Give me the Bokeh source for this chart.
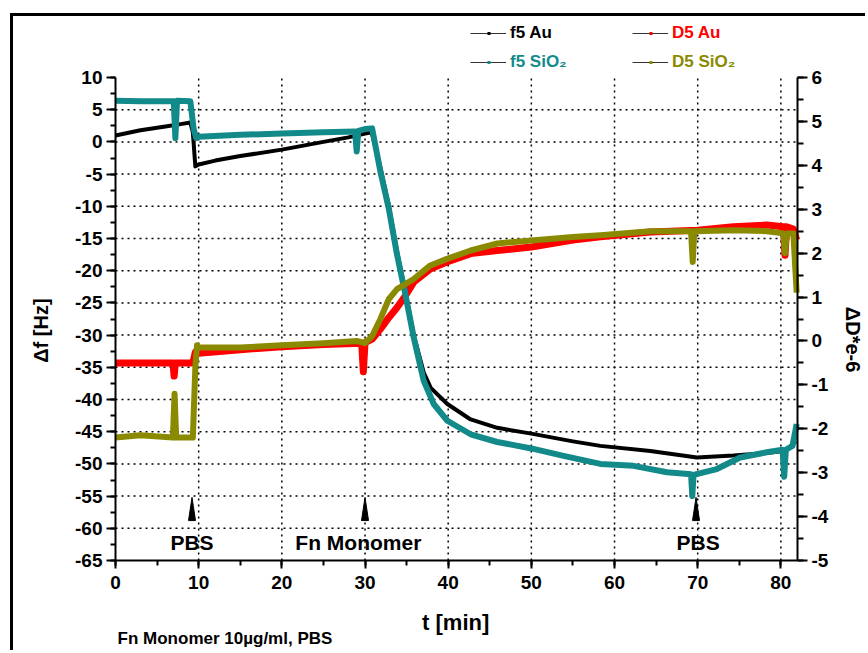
from bokeh.plotting import figure
from bokeh.models import (Range1d, LinearAxis, Label, Legend, LegendItem,
                          ColumnDataSource, SingleIntervalTicker, PrintfTickFormatter)
from bokeh.embed import file_html
from bokeh.resources import INLINE

FONT = "Liberation Sans"

# ---------------- data ----------------
# f5 Au  (left axis, Hz)
t_f5au = [0, 3, 6, 8, 9, 9.3, 9.6, 10, 12, 15, 20, 25, 28, 30, 30.8, 31.85, 32.85, 33.85,
          34.86, 35.86, 37.06, 37.9, 39.9, 42.7, 45.9, 50, 55, 58.3, 64.3, 69.9, 74.3, 78.3,
          80.3, 81, 81.8]
f5au = [1.0, 1.8, 2.4, 2.8, 3.0, 1.5, -3.8, -3.5, -2.9, -2.2, -1.2, 0.0, 0.7, 1.3, 1.5, -4.0,
        -9.8, -17.0, -23.3, -30.0, -35.8, -38.2, -40.7, -43.1, -44.4, -45.3, -46.5, -47.2,
        -48.0, -49.0, -48.7, -48.3, -48.0, -47.5, -46.5]

# f5 SiO2 (left axis, Hz)
t_f5si = [0, 3, 7.0, 7.2, 7.4, 9.0, 9.4, 9.7, 10, 15, 20, 25, 28.8, 29.0, 29.2, 30, 30.85,
          31.85, 32.85, 33.85, 34.86, 35.86, 37.06, 38.26, 39.9, 42.7, 45.9, 50, 54, 58.3,
          62.3, 66.3, 69.2, 69.35, 69.5, 72.3, 75.1, 78.3, 80.2, 80.4, 80.6, 81.4, 81.9]
f5si = [6.4, 6.3, 6.3, 0.6, 6.4, 6.3, 2.0, 0.6, 0.8, 1.1, 1.3, 1.5, 1.6, -1.5, 1.7, 2.0, 2.1,
        -4.6, -10.3, -17.5, -23.7, -30.4, -37.1, -40.7, -43.3, -45.4, -46.6, -47.6, -48.8,
        -50.0, -50.3, -51.3, -51.6, -55.0, -51.7, -50.8, -49.0, -48.2, -47.8, -52.0, -47.8,
        -47.2, -43.8]

# D5 Au (right axis, 1e-6)
t_d5au = [0, 3, 6.9, 7.05, 7.2, 9.3, 9.6, 10, 15, 20, 25, 29.6, 29.8, 30.0, 30.85, 31.85,
          32.85, 33.85, 34.86, 35.86, 37.85, 39.85, 42.7, 45.9, 50, 55, 58.3, 64.3, 70, 74.3,
          78.3, 80.3, 80.5, 80.7, 81.5, 81.9]
d5au = [-0.5, -0.5, -0.5, -0.8, -0.5, -0.5, -0.25, -0.28, -0.2, -0.13, -0.08, -0.05, -0.7,
        -0.04, 0.04, 0.27, 0.53, 0.76, 1.03, 1.34, 1.64, 1.8, 1.99, 2.06, 2.14, 2.3, 2.37,
        2.48, 2.52, 2.6, 2.64, 2.6, 1.95, 2.6, 2.55, 2.3]

# D5 SiO2 (right axis, 1e-6)
t_d5si = [0, 3, 6.9, 7.1, 7.3, 9.3, 9.6, 9.8, 10, 15, 20, 25, 29, 30, 30.85, 31.85, 32.85,
          33.85, 35.85, 37.85, 39.85, 42.7, 45.9, 50, 55, 58.3, 64.3, 69.2, 69.4, 69.6, 74.3,
          78.3, 80.3, 80.5, 80.7, 81.5, 81.9]
d5si = [-2.2, -2.15, -2.2, -1.2, -2.2, -2.2, -0.6, -0.1, -0.15, -0.15, -0.1, -0.05, 0.0,
        -0.05, 0.11, 0.5, 0.95, 1.18, 1.41, 1.72, 1.87, 2.06, 2.22, 2.29, 2.37, 2.41, 2.5,
        2.5, 1.8, 2.5, 2.52, 2.5, 2.45, 2.0, 2.45, 2.45, 1.1]

series_names = ["f5 Au", "f5 SiO₂", "D5 Au", "D5 SiO₂"]
series_colors = ["#000000", "#138a8a", "#ff0000", "#8a8a00"]

# axis extents
t_min, t_max = 0, 82
f_min, f_max = -65, 10
d_min, d_max = -5, 6
x_ticks_grid = [10, 20, 30, 40, 50, 60, 70, 80]
y_ticks_grid = [-60, -55, -50, -45, -40, -35, -30, -25, -20, -15, -10, -5, 0, 5]

event_t = [9.2, 30.0, 69.8]
event_text_t = [9.2, 29.2, 70.05]
event_labels = ["PBS", "Fn Monomer", "PBS"]
arrow_tip = -55.2
arrow_base = -58.8
arrow_half = 0.42
event_text_y = -62.2

# ---------------- layout geometry (pixels) ----------------
W, H = 855, 637                 # canvas
fl, fr, ft, fb = 102, 784, 61, 544   # plotting box inside the canvas
xs_px = (fr - fl) / (t_max - t_min)
ys_px = (fb - ft) / (f_max - f_min)
ds_px = (fb - ft) / (d_max - d_min)
x_lo, x_hi = t_min - fl / xs_px, t_max + (W - fr) / xs_px
y_lo, y_hi = f_min - (H - fb) / ys_px, f_max + ft / ys_px
r_lo, r_hi = d_min - (H - fb) / ds_px, d_max + ft / ds_px

p = figure(width=W, height=H, output_backend="svg", toolbar_location=None,
           x_range=Range1d(x_lo, x_hi), y_range=Range1d(y_lo, y_hi), min_border=0,
           margin=(13, 0, 0, 10),
           styles={"border-left": "3px solid #000", "border-top": "3px solid #000"})
p.extra_y_ranges = {"d": Range1d(r_lo, r_hi)}
p.outline_line_color = None
p.background_fill_color = "white"
p.border_fill_color = "white"
p.xgrid.visible = False
p.ygrid.visible = False

def style_axis(ax, major_out, minor_out):
    ax.axis_line_width = 2
    ax.axis_line_color = "black"
    ax.major_tick_line_width = 2
    ax.minor_tick_line_width = 2
    ax.major_tick_out = major_out
    ax.major_tick_in = 0
    ax.minor_tick_out = minor_out
    ax.minor_tick_in = 0
    ax.major_label_text_font = FONT
    ax.major_label_text_font_style = "bold"
    ax.major_label_text_font_size = "19px"
    ax.major_label_text_color = "black"
    ax.formatter = PrintfTickFormatter(format="%d")

xa = p.xaxis[0]
xa.ticker = SingleIntervalTicker(interval=10, num_minor_ticks=2)
xa.fixed_location = f_min
xa.bounds = (t_min, t_max)
style_axis(xa, 8, 5)
xa.major_label_standoff = 7

ya = p.yaxis[0]
ya.ticker = SingleIntervalTicker(interval=5, num_minor_ticks=2)
ya.fixed_location = t_min
ya.bounds = (f_min, f_max)
style_axis(ya, 9, 5)
ya.major_label_standoff = 4

ra = LinearAxis(y_range_name="d", ticker=SingleIntervalTicker(interval=1, num_minor_ticks=2),
                fixed_location=t_max, bounds=(d_min, d_max))
style_axis(ra, 10, 6)
ra.major_label_standoff = 4
p.add_layout(ra, "right")

# dotted grid
p.segment(x0=x_ticks_grid, y0=[f_min] * len(x_ticks_grid), x1=x_ticks_grid,
          y1=[f_max] * len(x_ticks_grid), line_color="black", line_dash="2 4", line_width=1.5)
p.segment(x0=[t_min] * len(y_ticks_grid), y0=y_ticks_grid, x1=[t_max] * len(y_ticks_grid),
          y1=y_ticks_grid, line_color="black", line_dash="2 4", line_width=1.5)

# ---------------- series ----------------
p.line(t_f5au, f5au, line_color=series_colors[0], line_width=4, line_join="round")
p.line(t_d5au, d5au, y_range_name="d", line_color=series_colors[2], line_width=7, line_join="round")
p.line(t_f5si, f5si, line_color=series_colors[1], line_width=6, line_join="round")
p.line(t_d5si, d5si, y_range_name="d", line_color=series_colors[3], line_width=6, line_join="round")

# ---------------- event arrows and labels ----------------
xs = [[t - arrow_half, t, t + arrow_half] for t in event_t]
ys = [[arrow_base, arrow_tip, arrow_base] for _ in event_t]
p.patches(xs, ys, fill_color="black", line_color="black")

for t, txt in zip(event_text_t, event_labels):
    p.add_layout(Label(x=t, y=event_text_y, text=txt, text_align="center",
                       text_baseline="middle", text_font=FONT, text_font_style="bold",
                       text_font_size="21px", text_color="black"))

# ---------------- axis titles and note ----------------
p.add_layout(Label(x=-9.0, y=-29.3, text="Δf [Hz]", angle=1.5708, text_align="center",
                   text_baseline="middle", text_font=FONT, text_font_style="bold",
                   text_font_size="20px", text_color="black"))
p.add_layout(Label(x=88.7, y=-30.7, text="ΔD*e-6", angle=-1.5708, text_align="center",
                   text_baseline="middle", text_font=FONT, text_font_style="bold",
                   text_font_size="20px", text_color="black"))
p.add_layout(Label(x=40.9, y=-74.6, text="t [min]", text_align="center",
                   text_baseline="middle", text_font=FONT, text_font_style="bold",
                   text_font_size="22px", text_color="black"))
p.add_layout(Label(x=0.25, y=-77.1, text="Fn Monomer 10µg/ml, PBS", text_align="left",
                   text_baseline="middle", text_font=FONT, text_font_style="bold",
                   text_font_size="17px", text_color="black"))

# ---------------- legends (line with coloured dot) ----------------
leg_pos = [(457, 610), (457, 581), (619, 610), (619, 581)]
nan = float("nan")
for name, col, pos in zip(series_names, series_colors, leg_pos):
    src = ColumnDataSource(data=dict(x=[nan], y=[nan]))
    lr = p.line("x", "y", source=src, line_color="#333333", line_width=1.2)
    dr = p.line("x", "y", source=src, line_color=col, line_width=3, line_dash="0 17 3 40")
    leg = Legend(items=[LegendItem(label=name, renderers=[lr, dr])], location=pos,
                 glyph_width=36, glyph_height=20, label_height=20, label_standoff=4,
                 padding=0, margin=0, spacing=0, border_line_color=None,
                 background_fill_alpha=0, label_text_font=FONT,
                 label_text_font_style="bold", label_text_font_size="17px",
                 label_text_color=col)
    p.add_layout(leg)

open("out.html", "w").write(file_html(p, INLINE))
